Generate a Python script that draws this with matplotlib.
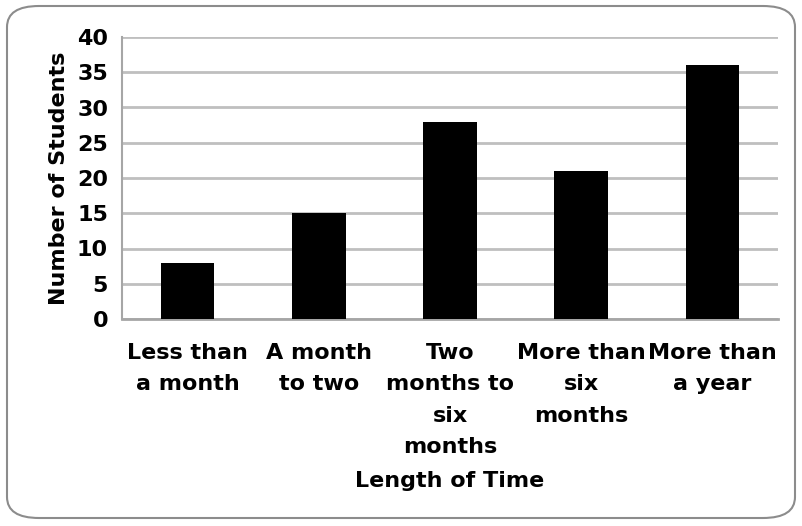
import matplotlib.pyplot as plt
from matplotlib.patches import FancyBboxPatch

plt.rcParams['font.family'] = ['DejaVu Sans']

categories = ['Less than\na month', 'A month\nto two', 'Two\nmonths to\nsix\nmonths',
              'More than\nsix\nmonths', 'More than\na year']
students = [8, 15, 28, 21, 36]
y_ticks = [0, 5, 10, 15, 20, 25, 30, 35, 40]

fig = plt.figure(figsize=(8.02, 5.26), dpi=100)
ax = fig.add_axes([122 / 802, 1 - 319 / 526, (778 - 122) / 802, (319 - 37) / 526])

x = range(len(categories))
ax.bar(x, students, width=0.41, color='black', zorder=3)

ax.set_xlim(-0.5, len(categories) - 0.5)
ax.set_ylim(0, 40)
ax.set_yticks(y_ticks)
ax.set_xticks(list(x))
ax.set_xticklabels(categories, fontsize=16, fontweight='bold', linespacing=1.72)
for lbl in ax.get_yticklabels():
    lbl.set_fontsize(16)
    lbl.set_fontweight('bold')

ax.tick_params(axis='x', length=0, pad=17)
ax.tick_params(axis='y', length=0, pad=10)
ax.yaxis.grid(True, color='#bfbfbf', linewidth=2, zorder=0)
for side in ['top', 'right']:
    ax.spines[side].set_visible(False)
ax.spines['left'].set_color('#a6a6a6')
ax.spines['left'].set_linewidth(1.5)
ax.spines['bottom'].set_color('#a6a6a6')
ax.spines['bottom'].set_linewidth(2)

ax.set_ylabel('Number of Students', fontsize=16, fontweight='bold', labelpad=6)
ax.set_xlabel('Length of Time', fontsize=16, fontweight='bold', labelpad=10)

# rounded frame around the whole chart
frame = FancyBboxPatch((7 / 802, 8 / 526), 788 / 802, 512 / 526,
                       boxstyle='round,pad=0,rounding_size=0.04',
                       transform=fig.transFigure, fill=False,
                       edgecolor='#8c8c8c', linewidth=1.5)
fig.patches.append(frame)

fig.savefig('out.png', dpi=100)
